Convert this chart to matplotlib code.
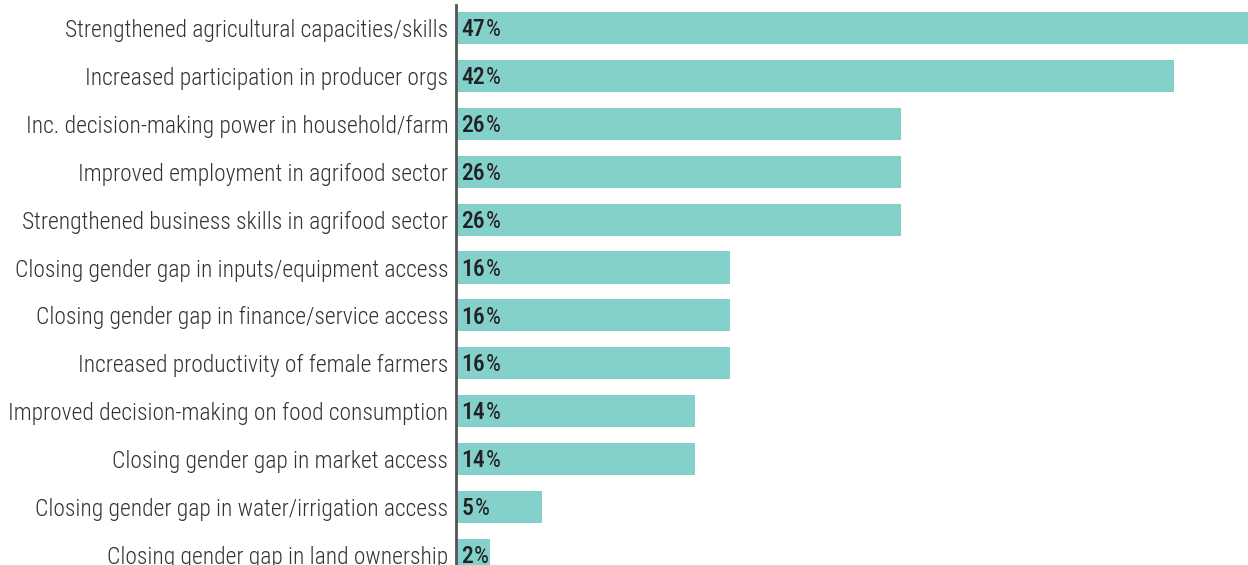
import matplotlib
matplotlib.use("Agg")
import matplotlib.pyplot as plt

# Outcome categories and share of projects reporting each (%)
categories = [
    "Strengthened agricultural capacities/skills",
    "Increased participation in producer orgs",
    "Inc. decision-making power in household/farm",
    "Improved employment in agrifood sector",
    "Strengthened business skills in agrifood sector",
    "Closing gender gap in inputs/equipment access",
    "Closing gender gap in finance/service access",
    "Increased productivity of female farmers",
    "Improved decision-making on food consumption",
    "Closing gender gap in market access",
    "Closing gender gap in water/irrigation access",
    "Closing gender gap in land ownership",
]
shares = [47, 42, 26, 26, 26, 16, 16, 16, 14, 14, 5, 2]

BAR_COLOR = "#84d1cb"
LABEL_COLOR = "#333333"
VALUE_COLOR = "#222222"
FONT = ["Roboto Condensed", "Roboto", "DejaVu Sans"]

W, H = 1248, 565
fig = plt.figure(figsize=(W / 100, H / 100), dpi=100)
ax = fig.add_axes([456 / W, 0, 1 - 456 / W, 560 / H])

y = list(range(len(categories)))
ax.barh(y, shares, height=0.67, color=BAR_COLOR, zorder=1)

ax.set_xlim(0, 46.3)
ax.set_ylim(11.21, -0.48)

for s in ["top", "right", "bottom"]:
    ax.spines[s].set_visible(False)
ax.spines["left"].set_color("#555555")
ax.spines["left"].set_linewidth(2)
ax.spines["left"].set_zorder(3)
ax.set_xticks([])
ax.set_yticks(y)
ax.set_yticklabels(categories, family=FONT, fontstretch="condensed",
                   fontweight="light", fontsize=16.9, color=LABEL_COLOR)
ax.tick_params(axis="y", length=0, pad=5.5)

# value labels: heavier number followed by a regular percent sign
for yi, v in zip(y, shares):
    t = ax.annotate(str(v), xy=(0, yi), xytext=(4, -1.2), textcoords="offset points",
                    ha="left", va="center", family=FONT, fontstretch="condensed",
                    fontweight="medium", fontsize=17, color=VALUE_COLOR, zorder=4)
    ax.annotate("%", xy=(1, 0), xycoords=t, xytext=(0.6, 0), textcoords="offset points",
                ha="left", va="bottom", family=FONT, fontstretch="condensed",
                fontweight="normal", fontsize=17, color=VALUE_COLOR, zorder=4)

fig.savefig("out.png", dpi=100)
